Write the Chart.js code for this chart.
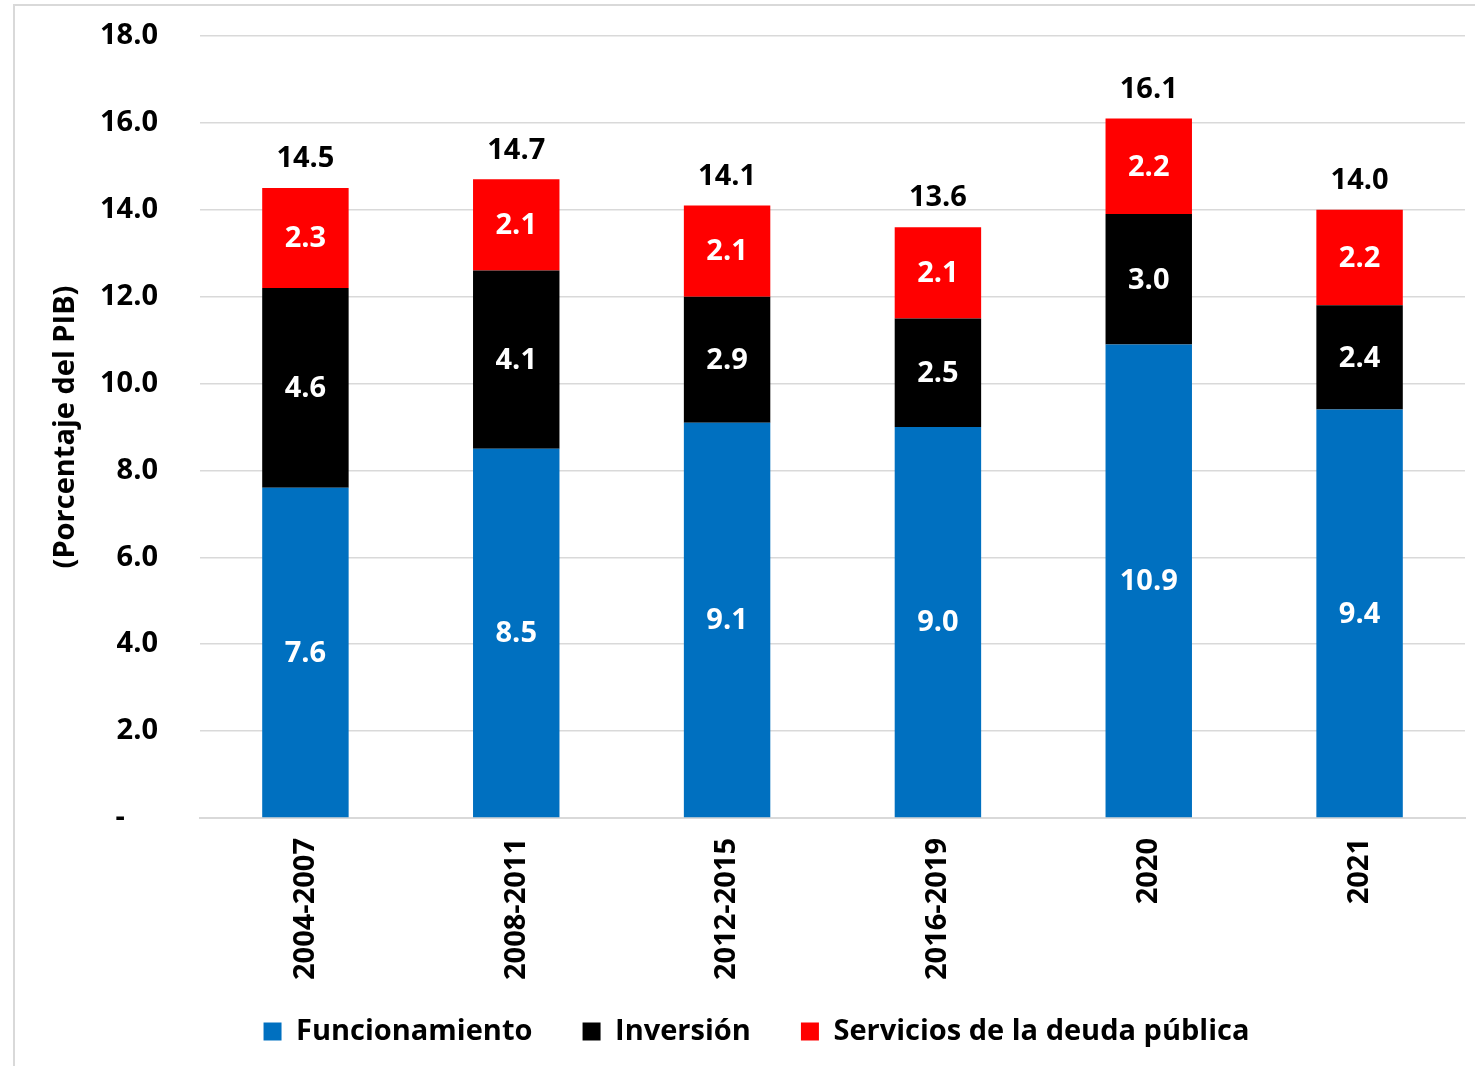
<!DOCTYPE html>
<html>
<head>
<meta charset="utf-8">
<script src="https://cdn.jsdelivr.net/npm/chart.js@4/dist/chart.umd.min.js"></script>
<style>
  html, body { margin: 0; padding: 0; background: #fff; }
  #wrap { position: relative; width: 1475px; height: 1066px; }
  #frame { position: absolute; left: 13px; top: 4px; width: 1470px; height: 1070px;
           border-left: 2px solid #d9d9d9; border-top: 2px solid #d9d9d9; pointer-events: none; }
  canvas { position: absolute; left: 0; top: 0; }
</style>
</head>
<body>
<div id="wrap">
  <canvas id="chart" width="1475" height="1066"></canvas>
  <div id="frame"></div>
</div>
<script>
const categories = ['2004-2007', '2008-2011', '2012-2015', '2016-2019', '2020', '2021'];
const funcionamiento = [7.6, 8.5, 9.1, 9.0, 10.9, 9.4];
const inversion = [4.6, 4.1, 2.9, 2.5, 3.0, 2.4];
const servicioDeuda = [2.3, 2.1, 2.1, 2.1, 2.2, 2.2];
const totals = [14.5, 14.7, 14.1, 13.6, 16.1, 14.0];
const yTicks = [0, 2, 4, 6, 8, 10, 12, 14, 16, 18];

const fontFamily = '"Open Sans", Lato, sans-serif';

// draw the values inside the bars and the totals on top
const barLabels = {
  id: 'barLabels',
  afterDatasetsDraw(chart) {
    const ctx = chart.ctx;
    ctx.save();
    ctx.font = `bold 29px ${fontFamily}`;
    ctx.textAlign = 'center';
    ctx.textBaseline = 'middle';
    chart.data.datasets.forEach((ds, i) => {
      const meta = chart.getDatasetMeta(i);
      meta.data.forEach((bar, j) => {
        ctx.fillStyle = '#fff';
        ctx.fillText(ds.data[j].toFixed(1), bar.x, (bar.y + bar.base) / 2 + 1);
      });
    });
    const top = chart.getDatasetMeta(chart.data.datasets.length - 1);
    top.data.forEach((bar, j) => {
      ctx.fillStyle = '#000';
      ctx.fillText(totals[j].toFixed(1), bar.x, bar.y - 29);
    });
    ctx.restore();
  }
};

new Chart(document.getElementById('chart'), {
  type: 'bar',
  data: {
    labels: categories,
    datasets: [
      { label: 'Funcionamiento', data: funcionamiento, backgroundColor: '#0070c0' },
      { label: 'Inversión', data: inversion, backgroundColor: '#000000' },
      { label: 'Servicios de la deuda pública', data: servicioDeuda, backgroundColor: '#ff0000' }
    ]
  },
  options: {
    responsive: false,
    animation: false,
    events: [],
    datasets: { bar: { categoryPercentage: 1, barPercentage: 0.41 } },
    layout: { padding: { top: 36, left: 48, right: 10, bottom: 10 } },
    plugins: {
      tooltip: { enabled: false },
      legend: {
        position: 'bottom',
        labels: {
          color: '#000',
          font: { family: fontFamily, size: 29, weight: 'bold' },
          boxWidth: 18,
          boxHeight: 18,
          padding: 20,
          generateLabels(chart) {
            const items = Chart.defaults.plugins.legend.labels.generateLabels(chart);
            items.forEach((it, i) => {
              if (i < items.length - 1) it.text += '    ';
            });
            return items;
          }
        }
      }
    },
    scales: {
      x: {
        stacked: true,
        grid: { display: false },
        border: { color: '#d9d9d9', width: 2 },
        ticks: {
          color: '#000',
          font: { family: fontFamily, size: 29, weight: 'bold' },
          minRotation: 90,
          maxRotation: 90,
          autoSkip: false,
          padding: 12
        },
        afterFit(scale) { scale.height = 179; }
      },
      y: {
        stacked: true,
        min: 0,
        max: 18,
        afterBuildTicks(scale) { scale.ticks = yTicks.map(v => ({ value: v })); },
        grid: { color: '#d9d9d9', lineWidth: 1.5, drawTicks: false },
        border: { display: false },
        ticks: {
          color: '#000',
          font: { family: fontFamily, size: 29, weight: 'bold' },
          padding: 42,
          callback: v => v === 0 ? '-\u2007\u2007' : v.toFixed(1)
        },
        title: {
          display: true,
          text: '(Porcentaje del PIB)',
          color: '#000',
          font: { family: fontFamily, size: 29, weight: 'bold' },
          padding: { top: 0, bottom: 0 }
        },
        afterFit(scale) {
          scale.width = 152;
          // keep the tick padding from pushing the plot area down
          scale.paddingTop = 0;
          scale.paddingBottom = 0;
        }
      }
    }
  },
  plugins: [barLabels]
});
</script>
</body>
</html>
